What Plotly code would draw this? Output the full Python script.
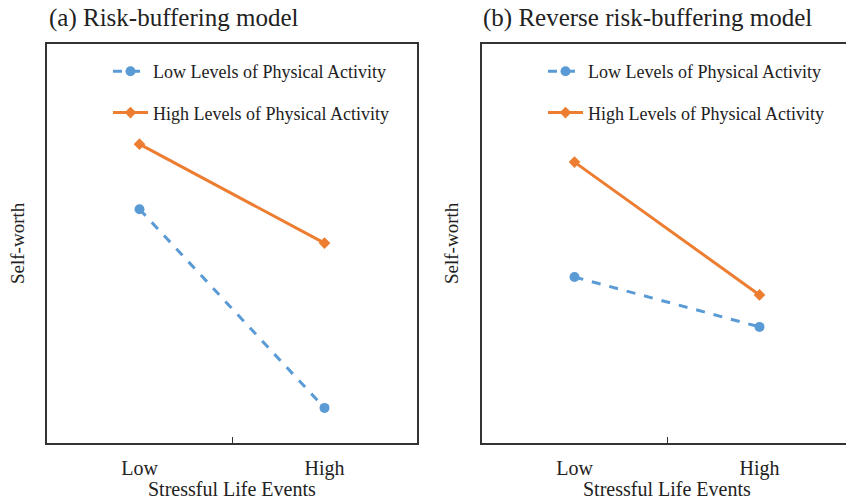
import plotly.graph_objects as go

categories = ["Low", "High"]
low_pa_a = [5.86, 0.88]
high_pa_a = [7.49, 5.01]
low_pa_b = [4.16, 2.91]
high_pa_b = [7.04, 3.71]

series_names = ["Low Levels of Physical Activity", "High Levels of Physical Activity"]
titles = ["(a) Risk-buffering model", "(b) Reverse risk-buffering model"]
x_title = "Stressful Life Events"
y_title = "Self-worth"

BLUE = "#5B9BD5"
ORANGE = "#ED7D31"
FONT = "Liberation Serif"
W, H = 846, 501

def px(v):
    return v / W

def py(v):
    return 1 - v / H

fig = go.Figure()

blue_style = dict(mode="lines+markers", line=dict(color=BLUE, width=3, dash="dash"),
                  marker=dict(symbol="circle", size=10, color=BLUE))
orange_style = dict(mode="lines+markers", line=dict(color=ORANGE, width=3),
                    marker=dict(symbol="diamond", size=9, color=ORANGE))

fig.add_trace(go.Scatter(x=categories, y=low_pa_a, name=series_names[0], legend="legend",
                         legendgroup="a1", xaxis="x", yaxis="y", **blue_style))
fig.add_trace(go.Scatter(x=categories, y=high_pa_a, name=series_names[1], legend="legend",
                         legendgroup="a2", xaxis="x", yaxis="y", **orange_style))
fig.add_trace(go.Scatter(x=categories, y=low_pa_b, name=series_names[0], legend="legend2",
                         legendgroup="b1", xaxis="x2", yaxis="y2", **blue_style))
fig.add_trace(go.Scatter(x=categories, y=high_pa_b, name=series_names[1], legend="legend2",
                         legendgroup="b2", xaxis="x2", yaxis="y2", **orange_style))

ydom = [py(443), py(44)]
xaxis_common = dict(type="category", categoryorder="array", categoryarray=categories,
                    showline=True, linecolor="#333333", linewidth=1.5, mirror=True,
                    ticks="inside", tickson="boundaries", ticklen=6, tickcolor="#333333",
                    showgrid=False, zeroline=False, ticklabelstandoff=6,
                    tickfont=dict(family=FONT, size=20, color="#222222"), fixedrange=True)
yaxis_common = dict(range=[0, 10], showticklabels=False, ticks="", showgrid=False,
                    zeroline=False, showline=True, linecolor="#333333", linewidth=1.5)

legend_common = dict(bgcolor="rgba(0,0,0,0)", borderwidth=0, traceorder="grouped",
                     tracegroupgap=15, itemwidth=35,
                     font=dict(family=FONT, size=18, color="#222222"),
                     xanchor="left", yanchor="top")

fig.update_layout(
    width=W, height=H,
    margin=dict(l=0, r=0, t=0, b=0),
    paper_bgcolor="white", plot_bgcolor="white",
    xaxis=dict(domain=[px(47), px(417)], range=[-0.5, 1.5], anchor="y", **xaxis_common),
    yaxis=dict(domain=ydom, anchor="x", mirror=True, **yaxis_common),
    xaxis2=dict(domain=[px(482), 1.0], range=[-0.5, 1.4676], anchor="y2", **xaxis_common),
    yaxis2=dict(domain=ydom, anchor="x2", mirror=False, **yaxis_common),
    legend=dict(x=px(108), y=py(53), **legend_common),
    legend2=dict(x=px(543), y=py(53), **legend_common),
    showlegend=True,
)

annots = [
    dict(text=titles[0], x=px(47), y=py(18), xanchor="left", yanchor="middle",
         font=dict(size=25)),
    dict(text=titles[1], x=px(481), y=py(18), xanchor="left", yanchor="middle",
         font=dict(size=25)),
    dict(text=x_title, x=px(232), y=py(489), xanchor="center", yanchor="middle",
         font=dict(size=20)),
    dict(text=x_title, x=px(667), y=py(489), xanchor="center", yanchor="middle",
         font=dict(size=20)),
    dict(text=y_title, x=px(18), y=py(243), xanchor="center", yanchor="middle",
         textangle=-90, font=dict(size=19)),
    dict(text=y_title, x=px(452), y=py(243), xanchor="center", yanchor="middle",
         textangle=-90, font=dict(size=19)),
]
for a in annots:
    a["font"]["family"] = FONT
    a["font"]["color"] = "#222222"
    fig.add_annotation(xref="paper", yref="paper", showarrow=False, **a)

fig.write_html("out.html", config={"displayModeBar": False},
               post_script="document.body.style.margin='0px';")
